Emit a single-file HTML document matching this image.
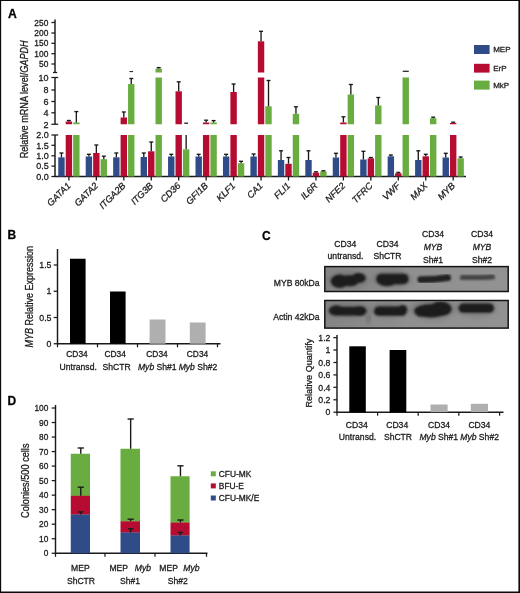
<!DOCTYPE html>
<html><head><meta charset="utf-8"><title>Figure</title>
<style>
html,body{margin:0;padding:0;background:#fff;}
body{width:520px;height:593px;overflow:hidden;position:relative;font-family:"Liberation Sans",sans-serif;}
svg{position:absolute;left:0;top:0;display:block;}
svg text{font-family:"Liberation Sans",sans-serif;stroke:#1a1a1a;stroke-width:0.28px;paint-order:stroke fill;}
svg{will-change:transform;transform:translateZ(0);}
</style></head>
<body>
<svg width="520" height="593" viewBox="0 0 520 593">
<rect x="0" y="0" width="520" height="593" fill="#ffffff"/>
<text x="8.00" y="18.00" font-size="12.2" text-anchor="start" font-weight="bold" font-style="normal" fill="#000" >A</text>
<line x1="55.00" y1="19.60" x2="55.00" y2="72.50" stroke="#1a1a1a" stroke-width="1.45" />
<line x1="55.00" y1="77.50" x2="55.00" y2="124.25" stroke="#1a1a1a" stroke-width="1.45" />
<line x1="55.00" y1="135.00" x2="55.00" y2="177.00" stroke="#1a1a1a" stroke-width="1.45" />
<line x1="51.40" y1="22.50" x2="55.00" y2="22.50" stroke="#1a1a1a" stroke-width="1.25" />
<text x="48.30" y="25.60" font-size="8.4" text-anchor="end" font-weight="normal" font-style="normal" fill="#1a1a1a" >250</text>
<line x1="51.40" y1="33.00" x2="55.00" y2="33.00" stroke="#1a1a1a" stroke-width="1.25" />
<text x="48.30" y="36.10" font-size="8.4" text-anchor="end" font-weight="normal" font-style="normal" fill="#1a1a1a" >200</text>
<line x1="51.40" y1="43.30" x2="55.00" y2="43.30" stroke="#1a1a1a" stroke-width="1.25" />
<text x="48.30" y="46.40" font-size="8.4" text-anchor="end" font-weight="normal" font-style="normal" fill="#1a1a1a" >150</text>
<line x1="51.40" y1="53.70" x2="55.00" y2="53.70" stroke="#1a1a1a" stroke-width="1.25" />
<text x="48.30" y="56.80" font-size="8.4" text-anchor="end" font-weight="normal" font-style="normal" fill="#1a1a1a" >100</text>
<line x1="51.40" y1="64.00" x2="55.00" y2="64.00" stroke="#1a1a1a" stroke-width="1.25" />
<text x="48.30" y="67.10" font-size="8.4" text-anchor="end" font-weight="normal" font-style="normal" fill="#1a1a1a" >50</text>
<line x1="53.00" y1="72.50" x2="57.20" y2="72.50" stroke="#1a1a1a" stroke-width="1.25" />
<line x1="51.40" y1="77.50" x2="58.20" y2="77.50" stroke="#1a1a1a" stroke-width="1.25" />
<text x="48.50" y="80.80" font-size="9.0" text-anchor="end" font-weight="normal" font-style="normal" fill="#1a1a1a" >10</text>
<line x1="51.40" y1="90.00" x2="55.00" y2="90.00" stroke="#1a1a1a" stroke-width="1.25" />
<text x="48.50" y="93.30" font-size="9.0" text-anchor="end" font-weight="normal" font-style="normal" fill="#1a1a1a" >8</text>
<line x1="51.40" y1="101.50" x2="55.00" y2="101.50" stroke="#1a1a1a" stroke-width="1.25" />
<text x="48.50" y="104.80" font-size="9.0" text-anchor="end" font-weight="normal" font-style="normal" fill="#1a1a1a" >6</text>
<line x1="51.40" y1="112.80" x2="55.00" y2="112.80" stroke="#1a1a1a" stroke-width="1.25" />
<text x="48.50" y="116.10" font-size="9.0" text-anchor="end" font-weight="normal" font-style="normal" fill="#1a1a1a" >4</text>
<line x1="51.40" y1="124.25" x2="58.20" y2="124.25" stroke="#1a1a1a" stroke-width="1.25" />
<text x="48.50" y="127.55" font-size="9.0" text-anchor="end" font-weight="normal" font-style="normal" fill="#1a1a1a" >2</text>
<line x1="51.40" y1="135.00" x2="58.20" y2="135.00" stroke="#1a1a1a" stroke-width="1.25" />
<text x="48.70" y="138.30" font-size="9.0" text-anchor="end" font-weight="normal" font-style="normal" fill="#1a1a1a" >2.0</text>
<line x1="51.40" y1="145.30" x2="55.00" y2="145.30" stroke="#1a1a1a" stroke-width="1.25" />
<text x="48.70" y="148.60" font-size="9.0" text-anchor="end" font-weight="normal" font-style="normal" fill="#1a1a1a" >1.5</text>
<line x1="51.40" y1="155.80" x2="55.00" y2="155.80" stroke="#1a1a1a" stroke-width="1.25" />
<text x="48.70" y="159.10" font-size="9.0" text-anchor="end" font-weight="normal" font-style="normal" fill="#1a1a1a" >1.0</text>
<line x1="51.40" y1="166.10" x2="55.00" y2="166.10" stroke="#1a1a1a" stroke-width="1.25" />
<text x="48.70" y="169.40" font-size="9.0" text-anchor="end" font-weight="normal" font-style="normal" fill="#1a1a1a" >0.5</text>
<line x1="51.40" y1="176.50" x2="55.00" y2="176.50" stroke="#1a1a1a" stroke-width="1.25" />
<text x="48.70" y="179.80" font-size="9.0" text-anchor="end" font-weight="normal" font-style="normal" fill="#1a1a1a" >0.0</text>
<line x1="54.50" y1="176.60" x2="466.00" y2="176.60" stroke="#1a1a1a" stroke-width="1.5" />
<text transform="translate(27.6,158.3) rotate(-90)" font-size="10" fill="#1a1a1a" textLength="118" lengthAdjust="spacingAndGlyphs">Relative mRNA level/<tspan font-style="italic">GAPDH</tspan></text>
<rect x="58.25" y="157.30" width="6.40" height="19.20" fill="#2f4c89" />
<line x1="61.45" y1="157.30" x2="61.45" y2="153.00" stroke="#1a1a1a" stroke-width="1.35" />
<line x1="59.45" y1="153.00" x2="63.45" y2="153.00" stroke="#1a1a1a" stroke-width="1.35" />
<rect x="65.70" y="135.00" width="6.40" height="41.50" fill="#b60c31" />
<rect x="65.70" y="121.50" width="6.40" height="2.75" fill="#b60c31" />
<line x1="68.90" y1="121.50" x2="68.90" y2="120.50" stroke="#1a1a1a" stroke-width="1.35" />
<line x1="66.90" y1="120.50" x2="70.90" y2="120.50" stroke="#1a1a1a" stroke-width="1.35" />
<rect x="73.15" y="135.00" width="6.40" height="41.50" fill="#69ad41" />
<rect x="73.15" y="122.50" width="6.40" height="1.75" fill="#69ad41" />
<line x1="76.35" y1="122.50" x2="76.35" y2="111.60" stroke="#1a1a1a" stroke-width="1.35" />
<line x1="74.35" y1="111.60" x2="78.35" y2="111.60" stroke="#1a1a1a" stroke-width="1.35" />
<line x1="68.90" y1="176.50" x2="68.90" y2="180.50" stroke="#1a1a1a" stroke-width="1.3" />
<text transform="translate(71.30,186.30) rotate(-45)" font-size="9.25" text-anchor="end" font-style="italic" fill="#1a1a1a">GATA1</text>
<rect x="85.70" y="156.50" width="6.40" height="20.00" fill="#2f4c89" />
<line x1="88.90" y1="156.50" x2="88.90" y2="154.30" stroke="#1a1a1a" stroke-width="1.35" />
<line x1="86.90" y1="154.30" x2="90.90" y2="154.30" stroke="#1a1a1a" stroke-width="1.35" />
<rect x="93.15" y="153.00" width="6.40" height="23.50" fill="#b60c31" />
<line x1="96.35" y1="153.00" x2="96.35" y2="145.00" stroke="#1a1a1a" stroke-width="1.35" />
<line x1="94.35" y1="145.00" x2="98.35" y2="145.00" stroke="#1a1a1a" stroke-width="1.35" />
<rect x="100.60" y="159.20" width="6.40" height="17.30" fill="#69ad41" />
<line x1="103.80" y1="159.20" x2="103.80" y2="156.20" stroke="#1a1a1a" stroke-width="1.35" />
<line x1="101.80" y1="156.20" x2="105.80" y2="156.20" stroke="#1a1a1a" stroke-width="1.35" />
<line x1="96.35" y1="176.50" x2="96.35" y2="180.50" stroke="#1a1a1a" stroke-width="1.3" />
<text transform="translate(98.75,186.30) rotate(-45)" font-size="9.25" text-anchor="end" font-style="italic" fill="#1a1a1a">GATA2</text>
<rect x="113.15" y="157.30" width="6.40" height="19.20" fill="#2f4c89" />
<line x1="116.35" y1="157.30" x2="116.35" y2="153.00" stroke="#1a1a1a" stroke-width="1.35" />
<line x1="114.35" y1="153.00" x2="118.35" y2="153.00" stroke="#1a1a1a" stroke-width="1.35" />
<rect x="120.60" y="135.00" width="6.40" height="41.50" fill="#b60c31" />
<rect x="120.60" y="117.50" width="6.40" height="6.75" fill="#b60c31" />
<line x1="123.80" y1="117.50" x2="123.80" y2="112.00" stroke="#1a1a1a" stroke-width="1.35" />
<line x1="121.80" y1="112.00" x2="125.80" y2="112.00" stroke="#1a1a1a" stroke-width="1.35" />
<rect x="128.05" y="135.00" width="6.40" height="41.50" fill="#69ad41" />
<rect x="128.05" y="84.00" width="6.40" height="40.25" fill="#69ad41" />
<line x1="131.25" y1="84.00" x2="131.25" y2="78.50" stroke="#1a1a1a" stroke-width="1.35" />
<line x1="129.25" y1="78.50" x2="133.25" y2="78.50" stroke="#1a1a1a" stroke-width="1.35" />
<line x1="123.80" y1="176.50" x2="123.80" y2="180.50" stroke="#1a1a1a" stroke-width="1.3" />
<text transform="translate(126.20,186.30) rotate(-45)" font-size="9.25" text-anchor="end" font-style="italic" fill="#1a1a1a">ITGA2B</text>
<rect x="140.60" y="157.00" width="6.40" height="19.50" fill="#2f4c89" />
<line x1="143.80" y1="157.00" x2="143.80" y2="153.00" stroke="#1a1a1a" stroke-width="1.35" />
<line x1="141.80" y1="153.00" x2="145.80" y2="153.00" stroke="#1a1a1a" stroke-width="1.35" />
<rect x="148.05" y="151.30" width="6.40" height="25.20" fill="#b60c31" />
<line x1="151.25" y1="151.30" x2="151.25" y2="142.00" stroke="#1a1a1a" stroke-width="1.35" />
<line x1="149.25" y1="142.00" x2="153.25" y2="142.00" stroke="#1a1a1a" stroke-width="1.35" />
<rect x="155.50" y="135.00" width="6.40" height="41.50" fill="#69ad41" />
<rect x="155.50" y="77.50" width="6.40" height="46.75" fill="#69ad41" />
<rect x="155.50" y="68.60" width="6.40" height="3.90" fill="#69ad41" />
<line x1="158.70" y1="68.60" x2="158.70" y2="67.60" stroke="#1a1a1a" stroke-width="1.35" />
<line x1="156.70" y1="67.60" x2="160.70" y2="67.60" stroke="#1a1a1a" stroke-width="1.35" />
<line x1="151.25" y1="176.50" x2="151.25" y2="180.50" stroke="#1a1a1a" stroke-width="1.3" />
<text transform="translate(153.65,186.30) rotate(-45)" font-size="9.25" text-anchor="end" font-style="italic" fill="#1a1a1a">ITG3B</text>
<rect x="168.05" y="156.50" width="6.40" height="20.00" fill="#2f4c89" />
<line x1="171.25" y1="156.50" x2="171.25" y2="154.30" stroke="#1a1a1a" stroke-width="1.35" />
<line x1="169.25" y1="154.30" x2="173.25" y2="154.30" stroke="#1a1a1a" stroke-width="1.35" />
<rect x="175.50" y="135.00" width="6.40" height="41.50" fill="#b60c31" />
<rect x="175.50" y="91.30" width="6.40" height="32.95" fill="#b60c31" />
<line x1="178.70" y1="91.30" x2="178.70" y2="81.80" stroke="#1a1a1a" stroke-width="1.35" />
<line x1="176.70" y1="81.80" x2="180.70" y2="81.80" stroke="#1a1a1a" stroke-width="1.35" />
<rect x="182.95" y="149.30" width="6.40" height="27.20" fill="#69ad41" />
<line x1="178.70" y1="176.50" x2="178.70" y2="180.50" stroke="#1a1a1a" stroke-width="1.3" />
<text transform="translate(181.10,186.30) rotate(-45)" font-size="9.25" text-anchor="end" font-style="italic" fill="#1a1a1a">CD36</text>
<rect x="195.50" y="156.50" width="6.40" height="20.00" fill="#2f4c89" />
<line x1="198.70" y1="156.50" x2="198.70" y2="154.30" stroke="#1a1a1a" stroke-width="1.35" />
<line x1="196.70" y1="154.30" x2="200.70" y2="154.30" stroke="#1a1a1a" stroke-width="1.35" />
<rect x="202.95" y="135.00" width="6.40" height="41.50" fill="#b60c31" />
<rect x="202.95" y="122.50" width="6.40" height="1.75" fill="#b60c31" />
<line x1="206.15" y1="122.50" x2="206.15" y2="120.20" stroke="#1a1a1a" stroke-width="1.35" />
<line x1="204.15" y1="120.20" x2="208.15" y2="120.20" stroke="#1a1a1a" stroke-width="1.35" />
<rect x="210.40" y="135.00" width="6.40" height="41.50" fill="#69ad41" />
<rect x="210.40" y="122.50" width="6.40" height="1.75" fill="#69ad41" />
<line x1="213.60" y1="122.50" x2="213.60" y2="120.60" stroke="#1a1a1a" stroke-width="1.35" />
<line x1="211.60" y1="120.60" x2="215.60" y2="120.60" stroke="#1a1a1a" stroke-width="1.35" />
<line x1="206.15" y1="176.50" x2="206.15" y2="180.50" stroke="#1a1a1a" stroke-width="1.3" />
<text transform="translate(208.55,186.30) rotate(-45)" font-size="9.25" text-anchor="end" font-style="italic" fill="#1a1a1a">GFI1B</text>
<rect x="222.95" y="156.50" width="6.40" height="20.00" fill="#2f4c89" />
<line x1="226.15" y1="156.50" x2="226.15" y2="154.30" stroke="#1a1a1a" stroke-width="1.35" />
<line x1="224.15" y1="154.30" x2="228.15" y2="154.30" stroke="#1a1a1a" stroke-width="1.35" />
<rect x="230.40" y="135.00" width="6.40" height="41.50" fill="#b60c31" />
<rect x="230.40" y="92.00" width="6.40" height="32.25" fill="#b60c31" />
<line x1="233.60" y1="92.00" x2="233.60" y2="84.00" stroke="#1a1a1a" stroke-width="1.35" />
<line x1="231.60" y1="84.00" x2="235.60" y2="84.00" stroke="#1a1a1a" stroke-width="1.35" />
<rect x="237.85" y="163.30" width="6.40" height="13.20" fill="#69ad41" />
<line x1="241.05" y1="163.30" x2="241.05" y2="161.30" stroke="#1a1a1a" stroke-width="1.35" />
<line x1="239.05" y1="161.30" x2="243.05" y2="161.30" stroke="#1a1a1a" stroke-width="1.35" />
<line x1="233.60" y1="176.50" x2="233.60" y2="180.50" stroke="#1a1a1a" stroke-width="1.3" />
<text transform="translate(236.00,186.30) rotate(-45)" font-size="9.25" text-anchor="end" font-style="italic" fill="#1a1a1a">KLF1</text>
<rect x="250.40" y="156.50" width="6.40" height="20.00" fill="#2f4c89" />
<line x1="253.60" y1="156.50" x2="253.60" y2="154.00" stroke="#1a1a1a" stroke-width="1.35" />
<line x1="251.60" y1="154.00" x2="255.60" y2="154.00" stroke="#1a1a1a" stroke-width="1.35" />
<rect x="257.85" y="135.00" width="6.40" height="41.50" fill="#b60c31" />
<rect x="257.85" y="77.50" width="6.40" height="46.75" fill="#b60c31" />
<rect x="257.85" y="41.30" width="6.40" height="31.20" fill="#b60c31" />
<line x1="261.05" y1="41.30" x2="261.05" y2="31.30" stroke="#1a1a1a" stroke-width="1.35" />
<line x1="259.05" y1="31.30" x2="263.05" y2="31.30" stroke="#1a1a1a" stroke-width="1.35" />
<rect x="265.30" y="135.00" width="6.40" height="41.50" fill="#69ad41" />
<rect x="265.30" y="106.30" width="6.40" height="17.95" fill="#69ad41" />
<line x1="268.50" y1="106.30" x2="268.50" y2="80.50" stroke="#1a1a1a" stroke-width="1.35" />
<line x1="266.50" y1="80.50" x2="270.50" y2="80.50" stroke="#1a1a1a" stroke-width="1.35" />
<line x1="261.05" y1="176.50" x2="261.05" y2="180.50" stroke="#1a1a1a" stroke-width="1.3" />
<text transform="translate(263.45,186.30) rotate(-45)" font-size="9.25" text-anchor="end" font-style="italic" fill="#1a1a1a">CA1</text>
<rect x="277.85" y="160.00" width="6.40" height="16.50" fill="#2f4c89" />
<line x1="281.05" y1="160.00" x2="281.05" y2="150.80" stroke="#1a1a1a" stroke-width="1.35" />
<line x1="279.05" y1="150.80" x2="283.05" y2="150.80" stroke="#1a1a1a" stroke-width="1.35" />
<rect x="285.30" y="163.80" width="6.40" height="12.70" fill="#b60c31" />
<line x1="288.50" y1="163.80" x2="288.50" y2="157.50" stroke="#1a1a1a" stroke-width="1.35" />
<line x1="286.50" y1="157.50" x2="290.50" y2="157.50" stroke="#1a1a1a" stroke-width="1.35" />
<rect x="292.75" y="135.00" width="6.40" height="41.50" fill="#69ad41" />
<rect x="292.75" y="113.80" width="6.40" height="10.45" fill="#69ad41" />
<line x1="295.95" y1="113.80" x2="295.95" y2="106.80" stroke="#1a1a1a" stroke-width="1.35" />
<line x1="293.95" y1="106.80" x2="297.95" y2="106.80" stroke="#1a1a1a" stroke-width="1.35" />
<line x1="288.50" y1="176.50" x2="288.50" y2="180.50" stroke="#1a1a1a" stroke-width="1.3" />
<text transform="translate(290.90,186.30) rotate(-45)" font-size="9.25" text-anchor="end" font-style="italic" fill="#1a1a1a">FLI1</text>
<rect x="305.30" y="160.00" width="6.40" height="16.50" fill="#2f4c89" />
<line x1="308.50" y1="160.00" x2="308.50" y2="150.80" stroke="#1a1a1a" stroke-width="1.35" />
<line x1="306.50" y1="150.80" x2="310.50" y2="150.80" stroke="#1a1a1a" stroke-width="1.35" />
<rect x="312.75" y="172.60" width="6.40" height="3.90" fill="#b60c31" />
<line x1="315.95" y1="172.60" x2="315.95" y2="171.80" stroke="#1a1a1a" stroke-width="1.35" />
<line x1="313.95" y1="171.80" x2="317.95" y2="171.80" stroke="#1a1a1a" stroke-width="1.35" />
<rect x="320.20" y="171.40" width="6.40" height="5.10" fill="#69ad41" />
<line x1="323.40" y1="171.40" x2="323.40" y2="170.80" stroke="#1a1a1a" stroke-width="1.35" />
<line x1="321.40" y1="170.80" x2="325.40" y2="170.80" stroke="#1a1a1a" stroke-width="1.35" />
<line x1="315.95" y1="176.50" x2="315.95" y2="180.50" stroke="#1a1a1a" stroke-width="1.3" />
<text transform="translate(318.35,186.30) rotate(-45)" font-size="9.25" text-anchor="end" font-style="italic" fill="#1a1a1a">IL6R</text>
<rect x="332.75" y="157.50" width="6.40" height="19.00" fill="#2f4c89" />
<line x1="335.95" y1="157.50" x2="335.95" y2="153.30" stroke="#1a1a1a" stroke-width="1.35" />
<line x1="333.95" y1="153.30" x2="337.95" y2="153.30" stroke="#1a1a1a" stroke-width="1.35" />
<rect x="340.20" y="135.00" width="6.40" height="41.50" fill="#b60c31" />
<rect x="340.20" y="122.50" width="6.40" height="1.75" fill="#b60c31" />
<line x1="343.40" y1="122.50" x2="343.40" y2="116.80" stroke="#1a1a1a" stroke-width="1.35" />
<line x1="341.40" y1="116.80" x2="345.40" y2="116.80" stroke="#1a1a1a" stroke-width="1.35" />
<rect x="347.65" y="135.00" width="6.40" height="41.50" fill="#69ad41" />
<rect x="347.65" y="94.50" width="6.40" height="29.75" fill="#69ad41" />
<line x1="350.85" y1="94.50" x2="350.85" y2="84.50" stroke="#1a1a1a" stroke-width="1.35" />
<line x1="348.85" y1="84.50" x2="352.85" y2="84.50" stroke="#1a1a1a" stroke-width="1.35" />
<line x1="343.40" y1="176.50" x2="343.40" y2="180.50" stroke="#1a1a1a" stroke-width="1.3" />
<text transform="translate(345.80,186.30) rotate(-45)" font-size="9.25" text-anchor="end" font-style="italic" fill="#1a1a1a">NFE2</text>
<rect x="360.20" y="159.50" width="6.40" height="17.00" fill="#2f4c89" />
<line x1="363.40" y1="159.50" x2="363.40" y2="151.30" stroke="#1a1a1a" stroke-width="1.35" />
<line x1="361.40" y1="151.30" x2="365.40" y2="151.30" stroke="#1a1a1a" stroke-width="1.35" />
<rect x="367.65" y="158.30" width="6.40" height="18.20" fill="#b60c31" />
<line x1="370.85" y1="158.30" x2="370.85" y2="157.50" stroke="#1a1a1a" stroke-width="1.35" />
<line x1="368.85" y1="157.50" x2="372.85" y2="157.50" stroke="#1a1a1a" stroke-width="1.35" />
<rect x="375.10" y="135.00" width="6.40" height="41.50" fill="#69ad41" />
<rect x="375.10" y="105.50" width="6.40" height="18.75" fill="#69ad41" />
<line x1="378.30" y1="105.50" x2="378.30" y2="97.50" stroke="#1a1a1a" stroke-width="1.35" />
<line x1="376.30" y1="97.50" x2="380.30" y2="97.50" stroke="#1a1a1a" stroke-width="1.35" />
<line x1="370.85" y1="176.50" x2="370.85" y2="180.50" stroke="#1a1a1a" stroke-width="1.3" />
<text transform="translate(373.25,186.30) rotate(-45)" font-size="9.25" text-anchor="end" font-style="italic" fill="#1a1a1a">TFRC</text>
<rect x="387.65" y="156.30" width="6.40" height="20.20" fill="#2f4c89" />
<line x1="390.85" y1="156.30" x2="390.85" y2="155.00" stroke="#1a1a1a" stroke-width="1.35" />
<line x1="388.85" y1="155.00" x2="392.85" y2="155.00" stroke="#1a1a1a" stroke-width="1.35" />
<rect x="395.10" y="173.20" width="6.40" height="3.30" fill="#b60c31" />
<line x1="398.30" y1="173.20" x2="398.30" y2="172.40" stroke="#1a1a1a" stroke-width="1.35" />
<line x1="396.30" y1="172.40" x2="400.30" y2="172.40" stroke="#1a1a1a" stroke-width="1.35" />
<rect x="402.55" y="135.00" width="6.40" height="41.50" fill="#69ad41" />
<rect x="402.55" y="77.50" width="6.40" height="46.75" fill="#69ad41" />
<line x1="398.30" y1="176.50" x2="398.30" y2="180.50" stroke="#1a1a1a" stroke-width="1.3" />
<text transform="translate(400.70,186.30) rotate(-45)" font-size="9.25" text-anchor="end" font-style="italic" fill="#1a1a1a">VWF</text>
<rect x="415.10" y="160.00" width="6.40" height="16.50" fill="#2f4c89" />
<line x1="418.30" y1="160.00" x2="418.30" y2="150.80" stroke="#1a1a1a" stroke-width="1.35" />
<line x1="416.30" y1="150.80" x2="420.30" y2="150.80" stroke="#1a1a1a" stroke-width="1.35" />
<rect x="422.55" y="156.30" width="6.40" height="20.20" fill="#b60c31" />
<line x1="425.75" y1="156.30" x2="425.75" y2="154.30" stroke="#1a1a1a" stroke-width="1.35" />
<line x1="423.75" y1="154.30" x2="427.75" y2="154.30" stroke="#1a1a1a" stroke-width="1.35" />
<rect x="430.00" y="135.00" width="6.40" height="41.50" fill="#69ad41" />
<rect x="430.00" y="118.20" width="6.40" height="6.05" fill="#69ad41" />
<line x1="433.20" y1="118.20" x2="433.20" y2="117.20" stroke="#1a1a1a" stroke-width="1.35" />
<line x1="431.20" y1="117.20" x2="435.20" y2="117.20" stroke="#1a1a1a" stroke-width="1.35" />
<line x1="425.75" y1="176.50" x2="425.75" y2="180.50" stroke="#1a1a1a" stroke-width="1.3" />
<text transform="translate(428.15,186.30) rotate(-45)" font-size="9.25" text-anchor="end" font-style="italic" fill="#1a1a1a">MAX</text>
<rect x="442.55" y="157.50" width="6.40" height="19.00" fill="#2f4c89" />
<line x1="445.75" y1="157.50" x2="445.75" y2="153.30" stroke="#1a1a1a" stroke-width="1.35" />
<line x1="443.75" y1="153.30" x2="447.75" y2="153.30" stroke="#1a1a1a" stroke-width="1.35" />
<rect x="450.00" y="135.00" width="6.40" height="41.50" fill="#b60c31" />
<rect x="450.00" y="123.00" width="6.40" height="1.25" fill="#b60c31" />
<line x1="453.20" y1="123.00" x2="453.20" y2="122.20" stroke="#1a1a1a" stroke-width="1.35" />
<line x1="451.20" y1="122.20" x2="455.20" y2="122.20" stroke="#1a1a1a" stroke-width="1.35" />
<rect x="457.45" y="158.30" width="6.40" height="18.20" fill="#69ad41" />
<line x1="460.65" y1="158.30" x2="460.65" y2="157.00" stroke="#1a1a1a" stroke-width="1.35" />
<line x1="458.65" y1="157.00" x2="462.65" y2="157.00" stroke="#1a1a1a" stroke-width="1.35" />
<line x1="453.20" y1="176.50" x2="453.20" y2="180.50" stroke="#1a1a1a" stroke-width="1.3" />
<text transform="translate(455.60,186.30) rotate(-45)" font-size="9.25" text-anchor="end" font-style="italic" fill="#1a1a1a">MYB</text>
<line x1="186.15" y1="149.30" x2="186.15" y2="135.00" stroke="#1a1a1a" stroke-width="1.35" />
<line x1="184.25" y1="123.20" x2="188.05" y2="123.20" stroke="#1a1a1a" stroke-width="1.3" />
<line x1="402.75" y1="71.30" x2="408.75" y2="71.30" stroke="#1a1a1a" stroke-width="1.2" />
<line x1="129.45" y1="71.60" x2="133.05" y2="71.60" stroke="#1a1a1a" stroke-width="1.0" />
<rect x="474.00" y="45.00" width="15.60" height="9.00" fill="#2f4c89" />
<text x="493.20" y="52.20" font-size="8.0" text-anchor="start" font-weight="normal" font-style="normal" fill="#1a1a1a" >MEP</text>
<rect x="474.00" y="63.80" width="15.60" height="8.80" fill="#b60c31" />
<text x="493.20" y="70.90" font-size="8.0" text-anchor="start" font-weight="normal" font-style="normal" fill="#1a1a1a" >ErP</text>
<rect x="474.00" y="80.60" width="15.60" height="9.00" fill="#69ad41" />
<text x="493.20" y="87.80" font-size="8.0" text-anchor="start" font-weight="normal" font-style="normal" fill="#1a1a1a" >MkP</text>
<text x="7.40" y="239.40" font-size="12.0" text-anchor="start" font-weight="bold" font-style="normal" fill="#000" >B</text>
<line x1="57.50" y1="249.00" x2="57.50" y2="344.25" stroke="#1a1a1a" stroke-width="1.45" />
<line x1="57.00" y1="343.75" x2="220.50" y2="343.75" stroke="#1a1a1a" stroke-width="1.5" />
<line x1="53.70" y1="265.00" x2="57.50" y2="265.00" stroke="#1a1a1a" stroke-width="1.25" />
<text x="51.50" y="268.20" font-size="8.8" text-anchor="end" font-weight="normal" font-style="normal" fill="#1a1a1a" >1.5</text>
<line x1="53.70" y1="291.25" x2="57.50" y2="291.25" stroke="#1a1a1a" stroke-width="1.25" />
<text x="51.50" y="294.45" font-size="8.8" text-anchor="end" font-weight="normal" font-style="normal" fill="#1a1a1a" >1</text>
<line x1="53.70" y1="317.50" x2="57.50" y2="317.50" stroke="#1a1a1a" stroke-width="1.25" />
<text x="51.50" y="320.70" font-size="8.8" text-anchor="end" font-weight="normal" font-style="normal" fill="#1a1a1a" >0.5</text>
<line x1="53.70" y1="343.75" x2="57.50" y2="343.75" stroke="#1a1a1a" stroke-width="1.25" />
<text x="51.50" y="346.95" font-size="8.8" text-anchor="end" font-weight="normal" font-style="normal" fill="#1a1a1a" >0</text>
<line x1="57.50" y1="343.75" x2="57.50" y2="347.25" stroke="#1a1a1a" stroke-width="1.25" />
<line x1="97.50" y1="343.75" x2="97.50" y2="347.25" stroke="#1a1a1a" stroke-width="1.25" />
<line x1="137.50" y1="343.75" x2="137.50" y2="347.25" stroke="#1a1a1a" stroke-width="1.25" />
<line x1="177.50" y1="343.75" x2="177.50" y2="347.25" stroke="#1a1a1a" stroke-width="1.25" />
<line x1="217.50" y1="343.75" x2="217.50" y2="347.25" stroke="#1a1a1a" stroke-width="1.25" />
<rect x="70.00" y="258.75" width="15.60" height="85.00" fill="#000" />
<rect x="110.00" y="291.50" width="15.60" height="52.25" fill="#000" />
<rect x="149.60" y="319.50" width="15.90" height="24.25" fill="#afafaf" />
<rect x="189.80" y="322.50" width="15.80" height="21.25" fill="#afafaf" />
<text transform="translate(33.4,347.6) rotate(-90)" font-size="10" fill="#1a1a1a" textLength="101.5" lengthAdjust="spacingAndGlyphs"><tspan font-style="italic">MYB</tspan> Relative Expression</text>
<text x="77.00" y="357.20" font-size="8.4" text-anchor="middle" font-weight="normal" font-style="normal" fill="#1a1a1a" >CD34</text>
<text x="78.20" y="369.60" font-size="8.6" text-anchor="middle" font-weight="normal" font-style="normal" fill="#1a1a1a" >Untransd.</text>
<text x="115.10" y="357.20" font-size="8.4" text-anchor="middle" font-weight="normal" font-style="normal" fill="#1a1a1a" >CD34</text>
<text x="116.70" y="369.60" font-size="8.6" text-anchor="middle" font-weight="normal" font-style="normal" fill="#1a1a1a" >ShCTR</text>
<text x="157.00" y="357.20" font-size="8.4" text-anchor="middle" font-weight="normal" font-style="normal" fill="#1a1a1a" >CD34</text>
<text x="197.50" y="357.20" font-size="8.4" text-anchor="middle" font-weight="normal" font-style="normal" fill="#1a1a1a" >CD34</text>
<text x="157.30" y="369.60" font-size="8.6" text-anchor="middle" font-weight="normal" font-style="normal" fill="#1a1a1a" ><tspan font-style="italic">Myb</tspan> Sh#1</text>
<text x="198.00" y="369.60" font-size="8.6" text-anchor="middle" font-weight="normal" font-style="normal" fill="#1a1a1a" ><tspan font-style="italic">Myb</tspan> Sh#2</text>
<text x="262.00" y="239.50" font-size="12.0" text-anchor="start" font-weight="bold" font-style="normal" fill="#000" >C</text>
<text x="345.30" y="246.90" font-size="8.6" text-anchor="middle" font-weight="normal" font-style="normal" fill="#1a1a1a" >CD34</text>
<text x="345.50" y="259.40" font-size="8.6" text-anchor="middle" font-weight="normal" font-style="normal" fill="#1a1a1a" >untransd.</text>
<text x="387.50" y="246.90" font-size="8.6" text-anchor="middle" font-weight="normal" font-style="normal" fill="#1a1a1a" >CD34</text>
<text x="387.50" y="259.40" font-size="8.6" text-anchor="middle" font-weight="normal" font-style="normal" fill="#1a1a1a" >ShCTR</text>
<text x="433.00" y="237.20" font-size="8.6" text-anchor="middle" font-weight="normal" font-style="normal" fill="#1a1a1a" >CD34</text>
<text x="433.00" y="250.00" font-size="8.6" text-anchor="middle" font-weight="normal" font-style="italic" fill="#1a1a1a" >MYB</text>
<text x="433.00" y="262.60" font-size="8.6" text-anchor="middle" font-weight="normal" font-style="normal" fill="#1a1a1a" >Sh#1</text>
<text x="482.00" y="237.20" font-size="8.6" text-anchor="middle" font-weight="normal" font-style="normal" fill="#1a1a1a" >CD34</text>
<text x="482.00" y="250.00" font-size="8.6" text-anchor="middle" font-weight="normal" font-style="italic" fill="#1a1a1a" >MYB</text>
<text x="482.00" y="262.60" font-size="8.6" text-anchor="middle" font-weight="normal" font-style="normal" fill="#1a1a1a" >Sh#2</text>
<text x="319.60" y="285.80" font-size="8.6" text-anchor="end" font-weight="normal" font-style="normal" fill="#1a1a1a" >MYB 80kDa</text>
<text x="319.60" y="320.00" font-size="8.6" text-anchor="end" font-weight="normal" font-style="normal" fill="#1a1a1a" >Actin 42kDa</text>
<defs><filter id="bl" x="-20%" y="-60%" width="140%" height="220%"><feGaussianBlur stdDeviation="2.2"/></filter><filter id="bl2" x="-20%" y="-60%" width="140%" height="220%"><feGaussianBlur stdDeviation="1.0"/></filter><filter id="bl3" x="-20%" y="-100%" width="140%" height="300%"><feGaussianBlur stdDeviation="1.15"/></filter><linearGradient id="bg1" x1="0" x2="1" y1="0" y2="0"><stop offset="0" stop-color="#848484"/><stop offset="0.45" stop-color="#909090"/><stop offset="1" stop-color="#929292"/></linearGradient><clipPath id="c1"><rect x="325.4" y="267.3" width="182.2" height="23.5"/></clipPath><clipPath id="c2"><rect x="325.4" y="301.2" width="182.2" height="26.2"/></clipPath></defs>
<rect x="324.80" y="266.60" width="183.40" height="24.90" fill="url(#bg1)" stroke="#141414" stroke-width="1.5"/>
<g clip-path="url(#c1)">
<g filter="url(#bl)" fill="#6e6e6e" opacity="0.55">
<ellipse cx="348" cy="280" rx="21" ry="9"/><ellipse cx="392" cy="279" rx="20" ry="9"/>
</g>
<g filter="url(#bl2)" fill="#1e1e1e">
<ellipse cx="339.6" cy="281.2" rx="8.8" ry="6.7"/>
<ellipse cx="349.5" cy="280.6" rx="9.5" ry="5.7"/>
<ellipse cx="358.6" cy="278.0" rx="7.2" ry="4.9"/>
<rect x="376.2" y="273.7" width="32.4" height="10.6" rx="5.0"/>
<ellipse cx="387" cy="281.2" rx="9.5" ry="5.0"/>
</g><g filter="url(#bl3)">
<path d="M420.8,279.6 Q434,279.9 447.6,277.7" stroke="#222222" stroke-width="6.9" stroke-linecap="round" fill="none"/>
<path d="M462.4,277.5 Q478,277.9 492.6,276.9" stroke="#444444" stroke-width="5.0" stroke-linecap="round" fill="none"/>
</g></g>
<rect x="324.80" y="300.50" width="183.40" height="27.60" fill="url(#bg1)" stroke="#141414" stroke-width="1.5"/>
<g clip-path="url(#c2)">
<g filter="url(#bl)" fill="#6e6e6e" opacity="0.5">
<ellipse cx="348" cy="310" rx="23" ry="8"/><ellipse cx="390" cy="310" rx="20" ry="8"/><ellipse cx="433" cy="309" rx="23" ry="11"/><ellipse cx="476" cy="308" rx="21" ry="9"/>
</g>
<g filter="url(#bl2)" fill="#1d1d1d">
<ellipse cx="336.4" cy="310.6" rx="7.6" ry="5.0"/>
<rect x="333" y="306.7" width="32" height="8.8" rx="4.3"/>
<ellipse cx="359.6" cy="311.0" rx="7.0" ry="4.8"/>
<rect x="374" y="306.6" width="32.6" height="9.2" rx="4.5"/>
<ellipse cx="402.6" cy="309.6" rx="4.6" ry="4.6"/>
<ellipse cx="431" cy="310.8" rx="16.8" ry="6.8"/>
<ellipse cx="440.5" cy="308.8" rx="11.2" ry="7.2"/>
<ellipse cx="422" cy="311.6" rx="7.4" ry="5.2"/>
<rect x="458.6" y="303.4" width="35.4" height="9.4" rx="4.6"/>
</g>
<g filter="url(#bl)"><ellipse cx="368.4" cy="318.6" rx="2.2" ry="4.6" fill="#6c6c6c"/></g>
</g>
<line x1="337.00" y1="335.00" x2="337.00" y2="412.70" stroke="#1a1a1a" stroke-width="1.45" />
<line x1="336.50" y1="412.20" x2="503.50" y2="412.20" stroke="#1a1a1a" stroke-width="1.5" />
<line x1="333.40" y1="337.60" x2="337.00" y2="337.60" stroke="#1a1a1a" stroke-width="1.25" />
<text x="330.40" y="340.80" font-size="8.7" text-anchor="end" font-weight="normal" font-style="normal" fill="#1a1a1a" >1.2</text>
<line x1="333.40" y1="350.00" x2="337.00" y2="350.00" stroke="#1a1a1a" stroke-width="1.25" />
<text x="330.40" y="353.20" font-size="8.7" text-anchor="end" font-weight="normal" font-style="normal" fill="#1a1a1a" >1</text>
<line x1="333.40" y1="362.50" x2="337.00" y2="362.50" stroke="#1a1a1a" stroke-width="1.25" />
<text x="330.40" y="365.70" font-size="8.7" text-anchor="end" font-weight="normal" font-style="normal" fill="#1a1a1a" >0.8</text>
<line x1="333.40" y1="374.90" x2="337.00" y2="374.90" stroke="#1a1a1a" stroke-width="1.25" />
<text x="330.40" y="378.10" font-size="8.7" text-anchor="end" font-weight="normal" font-style="normal" fill="#1a1a1a" >0.6</text>
<line x1="333.40" y1="387.30" x2="337.00" y2="387.30" stroke="#1a1a1a" stroke-width="1.25" />
<text x="330.40" y="390.50" font-size="8.7" text-anchor="end" font-weight="normal" font-style="normal" fill="#1a1a1a" >0.4</text>
<line x1="333.40" y1="399.80" x2="337.00" y2="399.80" stroke="#1a1a1a" stroke-width="1.25" />
<text x="330.40" y="403.00" font-size="8.7" text-anchor="end" font-weight="normal" font-style="normal" fill="#1a1a1a" >0.2</text>
<line x1="333.40" y1="412.20" x2="337.00" y2="412.20" stroke="#1a1a1a" stroke-width="1.25" />
<text x="330.40" y="415.40" font-size="8.7" text-anchor="end" font-weight="normal" font-style="normal" fill="#1a1a1a" >0</text>
<line x1="337.00" y1="412.20" x2="337.00" y2="415.70" stroke="#1a1a1a" stroke-width="1.25" />
<line x1="377.60" y1="412.20" x2="377.60" y2="415.70" stroke="#1a1a1a" stroke-width="1.25" />
<line x1="418.20" y1="412.20" x2="418.20" y2="415.70" stroke="#1a1a1a" stroke-width="1.25" />
<line x1="458.80" y1="412.20" x2="458.80" y2="415.70" stroke="#1a1a1a" stroke-width="1.25" />
<line x1="499.60" y1="412.20" x2="499.60" y2="415.70" stroke="#1a1a1a" stroke-width="1.25" />
<rect x="349.30" y="346.30" width="16.50" height="65.90" fill="#000" />
<rect x="389.60" y="350.00" width="16.70" height="62.20" fill="#000" />
<rect x="430.50" y="404.50" width="17.10" height="7.70" fill="#afafaf" />
<rect x="470.80" y="403.80" width="17.20" height="8.40" fill="#afafaf" />
<text transform="translate(311.5,407.6) rotate(-90)" font-size="9.5" fill="#1a1a1a" textLength="69" lengthAdjust="spacingAndGlyphs">Relative Quantify</text>
<text x="356.80" y="427.60" font-size="8.6" text-anchor="middle" font-weight="normal" font-style="normal" fill="#1a1a1a" >CD34</text>
<text x="357.50" y="440.00" font-size="8.6" text-anchor="middle" font-weight="normal" font-style="normal" fill="#1a1a1a" >Untransd.</text>
<text x="397.20" y="427.60" font-size="8.6" text-anchor="middle" font-weight="normal" font-style="normal" fill="#1a1a1a" >CD34</text>
<text x="398.00" y="440.00" font-size="8.6" text-anchor="middle" font-weight="normal" font-style="normal" fill="#1a1a1a" >ShCTR</text>
<text x="439.00" y="427.60" font-size="8.6" text-anchor="middle" font-weight="normal" font-style="normal" fill="#1a1a1a" >CD34</text>
<text x="438.80" y="440.00" font-size="8.6" text-anchor="middle" font-weight="normal" font-style="normal" fill="#1a1a1a" ><tspan font-style="italic">Myb</tspan> Sh#1</text>
<text x="479.40" y="427.60" font-size="8.6" text-anchor="middle" font-weight="normal" font-style="normal" fill="#1a1a1a" >CD34</text>
<text x="479.60" y="440.00" font-size="8.6" text-anchor="middle" font-weight="normal" font-style="normal" fill="#1a1a1a" ><tspan font-style="italic">Myb</tspan> Sh#2</text>
<text x="7.60" y="404.70" font-size="12.0" text-anchor="start" font-weight="bold" font-style="normal" fill="#000" >D</text>
<line x1="55.50" y1="405.00" x2="55.50" y2="553.75" stroke="#1a1a1a" stroke-width="1.45" />
<line x1="55.00" y1="553.25" x2="207.50" y2="553.25" stroke="#1a1a1a" stroke-width="1.5" />
<line x1="51.70" y1="553.25" x2="55.50" y2="553.25" stroke="#1a1a1a" stroke-width="1.25" />
<text x="48.30" y="556.25" font-size="8.3" text-anchor="end" font-weight="normal" font-style="normal" fill="#1a1a1a" >0</text>
<line x1="51.70" y1="538.73" x2="55.50" y2="538.73" stroke="#1a1a1a" stroke-width="1.25" />
<text x="48.30" y="541.73" font-size="8.3" text-anchor="end" font-weight="normal" font-style="normal" fill="#1a1a1a" >10</text>
<line x1="51.70" y1="524.20" x2="55.50" y2="524.20" stroke="#1a1a1a" stroke-width="1.25" />
<text x="48.30" y="527.20" font-size="8.3" text-anchor="end" font-weight="normal" font-style="normal" fill="#1a1a1a" >20</text>
<line x1="51.70" y1="509.68" x2="55.50" y2="509.68" stroke="#1a1a1a" stroke-width="1.25" />
<text x="48.30" y="512.67" font-size="8.3" text-anchor="end" font-weight="normal" font-style="normal" fill="#1a1a1a" >30</text>
<line x1="51.70" y1="495.15" x2="55.50" y2="495.15" stroke="#1a1a1a" stroke-width="1.25" />
<text x="48.30" y="498.15" font-size="8.3" text-anchor="end" font-weight="normal" font-style="normal" fill="#1a1a1a" >40</text>
<line x1="51.70" y1="480.62" x2="55.50" y2="480.62" stroke="#1a1a1a" stroke-width="1.25" />
<text x="48.30" y="483.62" font-size="8.3" text-anchor="end" font-weight="normal" font-style="normal" fill="#1a1a1a" >50</text>
<line x1="51.70" y1="466.10" x2="55.50" y2="466.10" stroke="#1a1a1a" stroke-width="1.25" />
<text x="48.30" y="469.10" font-size="8.3" text-anchor="end" font-weight="normal" font-style="normal" fill="#1a1a1a" >60</text>
<line x1="51.70" y1="451.57" x2="55.50" y2="451.57" stroke="#1a1a1a" stroke-width="1.25" />
<text x="48.30" y="454.57" font-size="8.3" text-anchor="end" font-weight="normal" font-style="normal" fill="#1a1a1a" >70</text>
<line x1="51.70" y1="437.05" x2="55.50" y2="437.05" stroke="#1a1a1a" stroke-width="1.25" />
<text x="48.30" y="440.05" font-size="8.3" text-anchor="end" font-weight="normal" font-style="normal" fill="#1a1a1a" >80</text>
<line x1="51.70" y1="422.52" x2="55.50" y2="422.52" stroke="#1a1a1a" stroke-width="1.25" />
<text x="48.30" y="425.52" font-size="8.3" text-anchor="end" font-weight="normal" font-style="normal" fill="#1a1a1a" >90</text>
<line x1="51.70" y1="408.00" x2="55.50" y2="408.00" stroke="#1a1a1a" stroke-width="1.25" />
<text x="48.30" y="411.00" font-size="8.3" text-anchor="end" font-weight="normal" font-style="normal" fill="#1a1a1a" >100</text>
<line x1="55.50" y1="553.25" x2="55.50" y2="556.75" stroke="#1a1a1a" stroke-width="1.25" />
<line x1="105.00" y1="553.25" x2="105.00" y2="556.75" stroke="#1a1a1a" stroke-width="1.25" />
<line x1="155.00" y1="553.25" x2="155.00" y2="556.75" stroke="#1a1a1a" stroke-width="1.25" />
<line x1="206.50" y1="553.25" x2="206.50" y2="556.75" stroke="#1a1a1a" stroke-width="1.25" />
<rect x="70.75" y="453.75" width="19.25" height="42.20" fill="#69ad41" />
<rect x="70.75" y="495.75" width="19.25" height="18.95" fill="#b60c31" />
<rect x="70.75" y="514.50" width="19.25" height="38.75" fill="#2f4c89" />
<line x1="80.78" y1="453.75" x2="80.78" y2="448.00" stroke="#1a1a1a" stroke-width="1.4" />
<line x1="77.68" y1="448.00" x2="83.88" y2="448.00" stroke="#1a1a1a" stroke-width="1.4" />
<line x1="80.78" y1="495.75" x2="80.78" y2="487.20" stroke="#1a1a1a" stroke-width="1.4" />
<line x1="77.68" y1="487.20" x2="83.88" y2="487.20" stroke="#1a1a1a" stroke-width="1.4" />
<line x1="80.78" y1="514.50" x2="80.78" y2="511.90" stroke="#1a1a1a" stroke-width="1.4" />
<line x1="78.08" y1="511.90" x2="83.48" y2="511.90" stroke="#1a1a1a" stroke-width="1.4" />
<rect x="120.50" y="448.75" width="19.50" height="72.70" fill="#69ad41" />
<rect x="120.50" y="521.25" width="19.50" height="11.45" fill="#b60c31" />
<rect x="120.50" y="532.50" width="19.50" height="20.75" fill="#2f4c89" />
<line x1="130.65" y1="448.75" x2="130.65" y2="419.00" stroke="#1a1a1a" stroke-width="1.4" />
<line x1="127.55" y1="419.00" x2="133.75" y2="419.00" stroke="#1a1a1a" stroke-width="1.4" />
<line x1="130.65" y1="521.25" x2="130.65" y2="519.20" stroke="#1a1a1a" stroke-width="1.4" />
<line x1="127.55" y1="519.20" x2="133.75" y2="519.20" stroke="#1a1a1a" stroke-width="1.4" />
<line x1="130.65" y1="532.50" x2="130.65" y2="528.80" stroke="#1a1a1a" stroke-width="1.4" />
<line x1="127.95" y1="528.80" x2="133.35" y2="528.80" stroke="#1a1a1a" stroke-width="1.4" />
<rect x="170.50" y="476.25" width="19.10" height="46.45" fill="#69ad41" />
<rect x="170.50" y="522.50" width="19.10" height="13.20" fill="#b60c31" />
<rect x="170.50" y="535.50" width="19.10" height="17.75" fill="#2f4c89" />
<line x1="180.45" y1="476.25" x2="180.45" y2="465.80" stroke="#1a1a1a" stroke-width="1.4" />
<line x1="177.35" y1="465.80" x2="183.55" y2="465.80" stroke="#1a1a1a" stroke-width="1.4" />
<line x1="180.45" y1="522.50" x2="180.45" y2="520.00" stroke="#1a1a1a" stroke-width="1.4" />
<line x1="177.35" y1="520.00" x2="183.55" y2="520.00" stroke="#1a1a1a" stroke-width="1.4" />
<line x1="180.45" y1="535.50" x2="180.45" y2="532.40" stroke="#1a1a1a" stroke-width="1.4" />
<line x1="177.75" y1="532.40" x2="183.15" y2="532.40" stroke="#1a1a1a" stroke-width="1.4" />
<text transform="translate(28.6,518.0) rotate(-90)" font-size="10" fill="#1a1a1a" textLength="74.5" lengthAdjust="spacingAndGlyphs">Colonies/500 cells</text>
<text x="80.40" y="571.30" font-size="8.6" text-anchor="middle" font-weight="normal" font-style="normal" fill="#1a1a1a" >MEP</text>
<text x="81.00" y="583.80" font-size="8.6" text-anchor="middle" font-weight="normal" font-style="normal" fill="#1a1a1a" >ShCTR</text>
<text x="118.70" y="571.30" font-size="8.6" text-anchor="middle" font-weight="normal" font-style="normal" fill="#1a1a1a" >MEP</text>
<text x="142.90" y="571.30" font-size="8.6" text-anchor="middle" font-weight="normal" font-style="italic" fill="#1a1a1a" >Myb</text>
<text x="130.00" y="583.90" font-size="8.6" text-anchor="middle" font-weight="normal" font-style="normal" fill="#1a1a1a" >Sh#1</text>
<text x="168.60" y="571.30" font-size="8.6" text-anchor="middle" font-weight="normal" font-style="normal" fill="#1a1a1a" >MEP</text>
<text x="191.40" y="571.30" font-size="8.6" text-anchor="middle" font-weight="normal" font-style="italic" fill="#1a1a1a" >Myb</text>
<text x="177.80" y="583.90" font-size="8.6" text-anchor="middle" font-weight="normal" font-style="normal" fill="#1a1a1a" >Sh#2</text>
<rect x="210.80" y="471.30" width="5.00" height="5.00" fill="#69ad41" />
<text x="218.80" y="476.80" font-size="8.4" text-anchor="start" font-weight="normal" font-style="normal" fill="#1a1a1a" >CFU-MK</text>
<rect x="210.80" y="483.40" width="5.00" height="5.00" fill="#b60c31" />
<text x="218.80" y="488.90" font-size="8.4" text-anchor="start" font-weight="normal" font-style="normal" fill="#1a1a1a" >BFU-E</text>
<rect x="210.80" y="495.50" width="5.00" height="5.00" fill="#2f4c89" />
<text x="218.80" y="501.00" font-size="8.4" text-anchor="start" font-weight="normal" font-style="normal" fill="#1a1a1a" >CFU-MK/E</text>
<!-- outer frame -->
<rect x="0" y="0" width="520" height="1.0" fill="#0a0a0a"/>
<rect x="0" y="0" width="1.15" height="593" fill="#0a0a0a"/>
<rect x="518.4" y="0" width="1.6" height="593" fill="#0a0a0a"/>
<rect x="0" y="591.5" width="520" height="1.5" fill="#0a0a0a"/>
</svg>
</body></html>
